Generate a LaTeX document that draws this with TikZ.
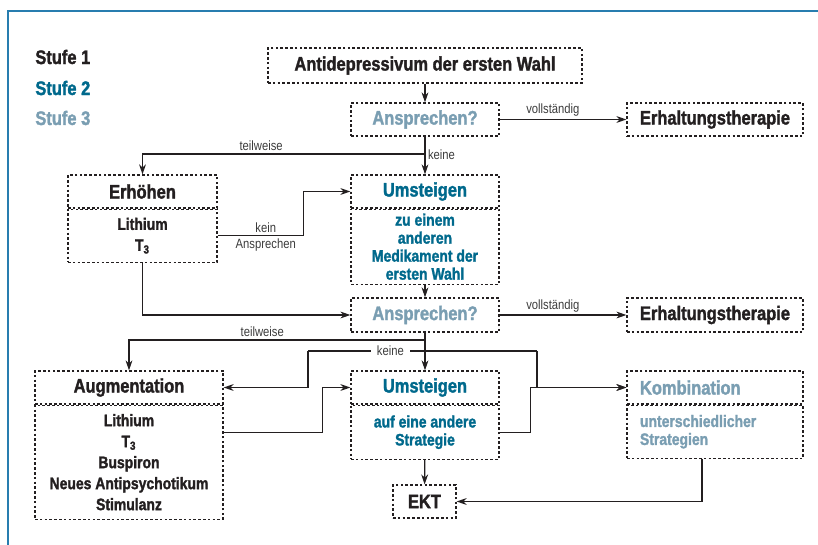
\documentclass[tikz,border=0pt]{standalone}
\usepackage{fontspec}
\setmainfont[FakeStretch=0.84, BoldFeatures={FakeBold=1.6}]{Liberation Sans}
\usetikzlibrary{arrows.meta}

\begin{document}
\begin{tikzpicture}[x=0.5pt, y=-0.5pt, >={Stealth[length=5pt,width=3.4pt]},
  box/.style={draw=textcolor, text=textcolor, line width=0.6pt, dash pattern=on 1.3pt off 1.1pt, inner sep=0pt, align=center},
  titlebox/.style={box, minimum height=16.5pt, font=\fontsize{9.8}{11}\selectfont\bfseries},
  bodybox/.style={box, anchor=north, font=\fontsize{8.3}{10.5}\selectfont\bfseries},
  bluebody/.style={bodybox, font=\fontsize{8.3}{9}\selectfont\bfseries},
  legend/.style={anchor=west, inner sep=0pt, font=\fontsize{9.8}{11}\selectfont\bfseries},
  lbl/.style={font=\fontsize{6.7}{8}\selectfont, text=labelcolor, inner sep=1.2pt},
  conn/.style={draw=textcolor, line width=0.6pt}]

\definecolor{textcolor}{RGB}{35,31,32}
\definecolor{stufetwo}{RGB}{0,105,140}
\definecolor{stufethree}{RGB}{122,158,178}
\definecolor{framecolor}{RGB}{40,125,175}
\definecolor{labelcolor}{RGB}{60,60,60}

\useasboundingbox (0,0) rectangle (818,545);
\draw[framecolor, line width=1pt] (8,545) -- (8,11.5) -- (818,11.5);

\node[legend, text=textcolor] (s1) at (35,57) {Stufe 1};
\node[legend, text=stufetwo] (s2) at (35,88) {Stufe 2};
\node[legend, text=stufethree] (s3) at (35,118) {Stufe 3};

\node[titlebox, minimum width=157pt, minimum height=17.5pt] (ad) at (425,65.5) {Antidepressivum der ersten Wahl};
\node[titlebox, minimum width=74pt, text=stufethree] (q1) at (425,119.5) {Ansprechen?};
\node[titlebox, minimum width=88pt] (e1) at (715,119.5) {Erhaltungstherapie};

\node[titlebox, minimum width=74.5pt] (erh) at (142.5,191.5) {Erh\"ohen};
\node[bodybox, minimum width=74.5pt, minimum height=26.5pt] (erhb) at (erh.south) {Lithium\\T\textsubscript{3}};

\node[titlebox, minimum width=74pt, text=stufetwo] (um1) at (425,191.5) {Umsteigen};
\node[bluebody, minimum width=74pt, minimum height=37.5pt, text=stufetwo] (um1b) at (um1.south) {zu einem\\anderen\\Medikament der\\ersten Wahl};

\node[titlebox, minimum width=74pt, minimum height=17pt, text=stufethree] (q2) at (425,315) {Ansprechen?};
\node[titlebox, minimum width=88pt, minimum height=17pt] (e2) at (715,315) {Erhaltungstherapie};

\node[titlebox, minimum width=94pt] (aug) at (129,387.5) {Augmentation};
\node[bodybox, minimum width=94pt, minimum height=57pt] (augb) at (aug.south) {Lithium\\T\textsubscript{3}\\Buspiron\\Neues Antipsychotikum\\Stimulanz};

\node[titlebox, minimum width=74pt, text=stufetwo] (um2) at (425,387.5) {Umsteigen};
\node[bluebody, minimum width=74pt, minimum height=27pt, text=stufetwo] (um2b) at (um2.south) {auf eine andere\\Strategie};

\node[titlebox, text width=75pt, inner xsep=6.5pt, align=left, text=stufethree] (kom) at (715,387.5) {Kombination};
\node[bluebody, text width=75pt, inner xsep=6.5pt, minimum height=26.5pt, align=left, text=stufethree] (komb) at (kom.south) {unterschiedlicher\\Strategien};

\node[titlebox, minimum width=31.5pt] (ekt) at (424.5,501.5) {EKT};

\draw[conn,->] (ad) -- (q1);
\draw[conn,->] (q1) -- node[lbl, above, pos=0.42] {vollst\"andig} (e1);
\coordinate (j1) at (425,154);
\draw[conn,->] (q1) -- node[lbl, right, pos=0.49] {keine} (um1);
\draw[conn,->] (j1) -| node[lbl, above, pos=0.29] {teilweise} (erh);
\draw[conn,->] (erhb.east) -- node[lbl, above, pos=0.56] {kein} node[lbl, below, pos=0.56] {Ansprechen} ++(86,0) |- (um1);
\draw[conn,->] (erhb) |- (q2);
\draw[conn,->] (um1b) -- (q2);

\draw[conn,->] (q2) -- node[lbl, above, pos=0.42] {vollst\"andig} (e2);
\coordinate (j2) at (425,340);
\draw[conn,->] (q2) -- (um2);
\draw[conn,->] (j2) -| node[lbl, above, pos=0.275] {teilweise} (aug);
\coordinate (k1) at (308,351);
\coordinate (k2) at (537,351);
\draw[conn] (k1) -- node[lbl, fill=white, pos=0.36, inner xsep=3pt] {keine} (k2);
\draw[conn,->] (k1) |- (aug);
\draw[conn,->] (k2) |- (kom);
\draw[conn,->] (augb.east |- um2b) -- ++(99,0) |- (um2);
\draw[conn,->] (um2b.east) -- ++(31,0) |- (kom);
\draw[conn,->] (um2b) -- (ekt);
\draw[conn,->] ([xshift=-6.5pt]komb.south) |- (ekt);

\end{tikzpicture}
\end{document}
